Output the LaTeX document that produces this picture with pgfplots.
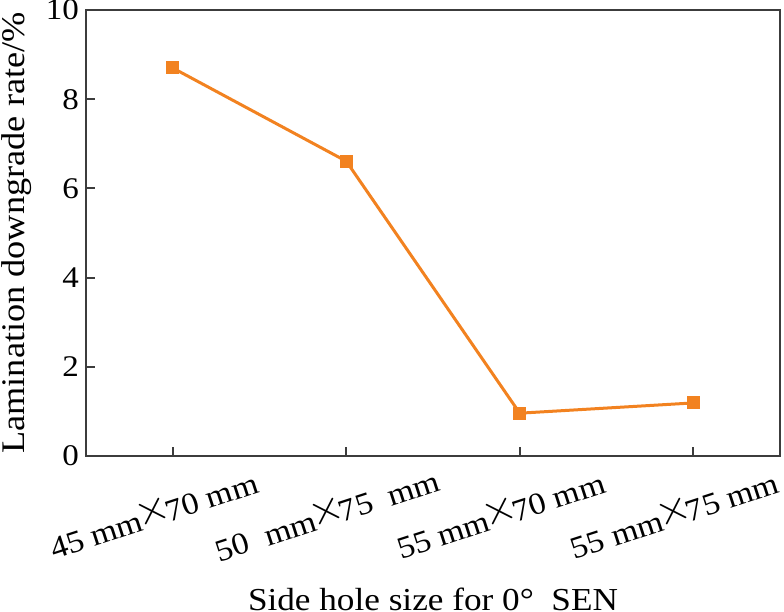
\documentclass[border=0pt]{standalone}
\usepackage{fontspec}
\setmainfont{Liberation Serif}[FakeStretch=1.1]
\usepackage{pgfplots}
\pgfplotsset{compat=1.18}
\definecolor{lineor}{RGB}{242,130,32}
\definecolor{axgray}{RGB}{60,60,60}
\newcommand{\tm}{\kern-0.15em\raisebox{0.12em}{\scalebox{1.55}{$\times$}}\kern-0.15em}
\begin{document}
\begin{tikzpicture}
\useasboundingbox (-43pt,-78pt) rectangle (349pt,228pt);
\begin{axis}[
  scale only axis,
  width=347pt, height=223pt,
  xmin=-0.5, xmax=3.5,
  ymin=0, ymax=10,
  xtick={0,1,2,3},
  xticklabels={45 mm\tm70 mm, 50\ \ mm\tm75\ \ mm, 55 mm\tm70 mm, 55 mm\tm75 mm},
  ytick={0,2,4,6,8,10},
  xtick pos=bottom, ytick pos=left,
  tick align=inside,
  major tick length=4.5pt,
  axis line style={axgray, line width=1pt},
  every tick/.style={axgray, line width=1pt},
  /pgf/number format/assume math mode=true,
  yticklabel style={font=\fontsize{15}{15}\selectfont},
  xticklabel style={font=\fontsize{15.5}{15.5}\selectfont, xshift=-10pt, yshift=-28pt, rotate=18, anchor=center},
  xlabel={Side hole size for 0°\ \ SEN},
  ylabel={Lamination downgrade rate/\%},
  xlabel style={font=\fontsize{16}{16}\selectfont, at={(axis description cs:0.5,-0.3453)}, anchor=base},
  ylabel style={font=\fontsize{16.5}{16.5}\selectfont, at={(axis description cs:-0.0879,0.5)}, anchor=base, rotate=0},
]
\addplot[color=lineor, line width=1.5pt, mark=square*, mark size=2.5pt, mark options={solid, fill=lineor}]
  coordinates {(0,8.70) (1,6.61) (2,0.96) (3,1.19)};
\end{axis}
\end{tikzpicture}
\end{document}
